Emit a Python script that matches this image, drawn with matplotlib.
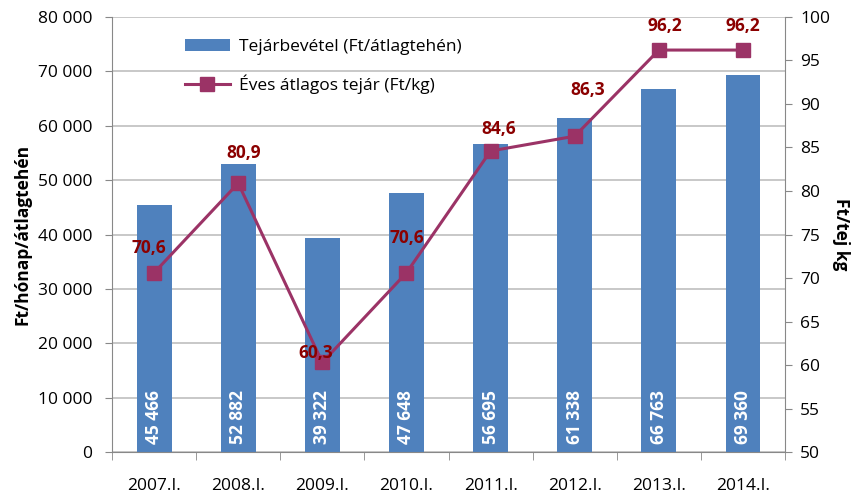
import matplotlib.pyplot as plt
import numpy as np

plt.rcParams['font.family'] = ['Open Sans', 'DejaVu Sans']

categories = ["2007.I.", "2008.I.", "2009.I.", "2010.I.", "2011.I.", "2012.I.", "2013.I.", "2014.I."]
revenue = [45466, 52882, 39322, 47648, 56695, 61338, 66763, 69360]
price = [70.6, 80.9, 60.3, 70.6, 84.6, 86.3, 96.2, 96.2]
# label offsets (points) for the price labels, as placed in the original
price_label_dy = [18, 22, 7, 25, 16, 33, 17, 17]
price_label_dx = [-4, 4, -5, 0, 6, 9, 4, 0]

BAR = "#4F81BD"
LINE = "#9B3366"
LABEL = "#8B0000"
GRID = "#BFBFBF"
SPINE = "#888888"
FS = 12.5

fig = plt.figure(figsize=(8.59, 4.94), dpi=100)
ax = fig.add_axes([0.1304, 0.085, 0.7835, 0.8806])
ax2 = ax.twinx()

x = np.arange(len(categories))
bars = ax.bar(x, revenue, width=0.415, color=BAR, label="Tejárbevétel (Ft/átlagtehén)", zorder=2)
ax.set_ylim(0, 80000)
ax.set_xlim(-0.5, len(categories) - 0.5)
ax.set_yticks(np.arange(0, 80001, 10000))
ax.set_yticklabels(["0" if v == 0 else f"{v // 1000} 000" for v in range(0, 80001, 10000)])
ax.yaxis.grid(True, color=GRID, linewidth=1.2, zorder=0)
ax.set_axisbelow(True)

ax.set_xticks(x)
ax.set_xticklabels(categories)
ax.set_xticks(np.arange(-0.5, len(categories), 1), minor=True)
ax.tick_params(axis="x", which="major", length=0, pad=19, labelsize=FS)
ax.tick_params(axis="x", which="minor", length=6, color=SPINE, direction="out")
ax.tick_params(axis="y", length=5, color=SPINE, labelsize=FS, pad=9)

for i, v in enumerate(revenue):
    ax.annotate(f"{v // 1000} {v % 1000:03d}", xy=(i, 0), xytext=(0, 6), textcoords="offset points",
                rotation=90, ha="center", va="bottom", color="white", fontsize=FS, fontweight="bold")

ax2.plot(x, price, color=LINE, linewidth=2.2, marker="s", markersize=10, label="Éves átlagos tejár (Ft/kg)", zorder=3)
ax2.set_ylim(50, 100)
ax2.set_yticks(np.arange(50, 101, 5))
ax2.tick_params(axis="y", length=5, color=SPINE, labelsize=FS, pad=6)

for i, v in enumerate(price):
    ax2.annotate(f"{v:.1f}".replace(".", ","), xy=(i, v),
                 xytext=(price_label_dx[i], price_label_dy[i]), textcoords="offset points",
                 ha="center", va="center", color=LABEL, fontsize=FS, fontweight="bold")

for a in (ax, ax2):
    a.spines["top"].set_visible(False)
    for s in ("left", "right", "bottom"):
        a.spines[s].set_color(SPINE)
ax.spines["right"].set_visible(False)
ax2.spines["left"].set_visible(False)
ax2.spines["bottom"].set_visible(False)

ax.set_ylabel("Ft/hónap/átlagtehén", fontsize=FS, fontweight="bold", labelpad=5)
ax2.set_ylabel("Ft/tej kg", fontsize=FS, fontweight="bold", rotation=270, labelpad=14)

h1, l1 = ax.get_legend_handles_labels()
h2, l2 = ax2.get_legend_handles_labels()
ax.legend(h1 + h2, l1 + l2, loc="upper left", bbox_to_anchor=(0.085, 0.985), frameon=False,
          fontsize=FS, handlelength=2.6, handletextpad=0.5, labelspacing=1.1)

fig.savefig("out.png", dpi=100)
